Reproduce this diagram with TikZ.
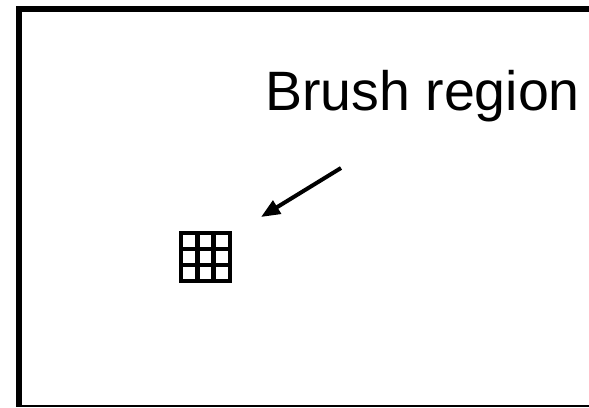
\documentclass[tikz,border=0pt]{standalone}
\usepackage{fontspec}
\setmainfont{Liberation Sans}
\usetikzlibrary{arrows.meta}
\begin{document}
\begin{tikzpicture}[x=1pt,y=-1pt,
  frame/.style={line width=6pt},
  gridline/.style={line width=4.5pt},
  pointer/.style={line width=4pt,-{Triangle[length=19pt,width=15pt]}},
  lbl/.style={font=\fontsize{55.5}{60}\selectfont,inner sep=0pt,anchor=base west}]
\path[use as bounding box,fill=white] (0,0) rectangle (589,407);
\coordinate (tl) at (19,9);
\coordinate (tr) at (589,9);
\coordinate (bl) at (19,407);
\draw[frame] (tr) -- (tl) -- (bl);
\coordinate (b1) at (16,406);
\coordinate (b2) at (589,406);
\draw[line width=1.2pt] (b1) -- (b2);
\draw[gridline] (181,233) rectangle (230,281);
\draw[gridline] (197.3,233) -- (197.3,281) (213.7,233) -- (213.7,281)
  (181,249) -- (230,249) (181,265) -- (230,265);
\node[lbl] (label) at (265,110) {Brush region};
\coordinate (as) at (341,168);
\coordinate (ae) at (261,217);
\draw[pointer] (as) -- (ae);
\end{tikzpicture}
\end{document}
